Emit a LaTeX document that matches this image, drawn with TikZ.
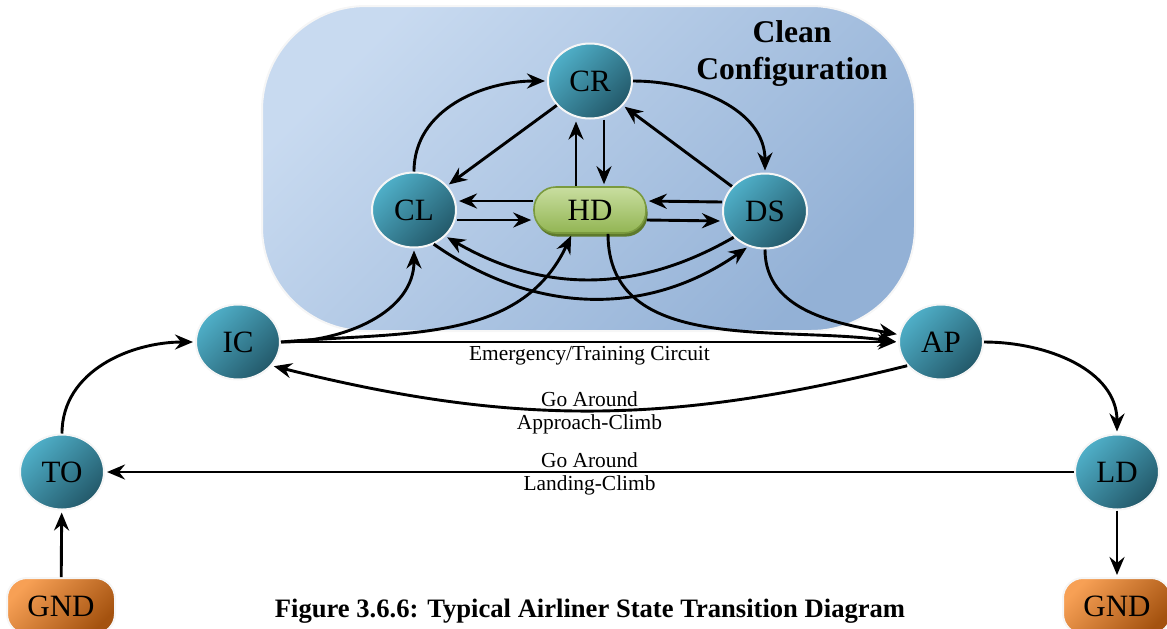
\documentclass[tikz,border=0pt]{standalone}
\usepackage{fontspec}
\setmainfont{Liberation Serif}
\usepackage{tikz}
\usetikzlibrary{arrows.meta,shapes.geometric,shadows}
\definecolor{phaseA}{HTML}{4FAFC8}
\definecolor{phaseB}{HTML}{23596A}
\definecolor{holdA}{HTML}{C9DEA0}
\definecolor{holdB}{HTML}{92B553}
\definecolor{holdEdge}{HTML}{7A9A3E}
\definecolor{holdShade}{HTML}{5E7A2C}
\definecolor{gndA}{HTML}{F7A055}
\definecolor{gndB}{HTML}{A4520F}
\definecolor{cleanA}{HTML}{C8DAF0}
\definecolor{cleanB}{HTML}{93B1D6}

\begin{document}
\begin{tikzpicture}[x=0.5pt,y=-0.5pt,->,>={Stealth[length=9pt,width=7.5pt,inset=3pt]},
                    shorten >=1pt,auto,line width=1.45pt]
  \tikzstyle{phase}=[ellipse,draw=white!93!gray,line width=1pt,top color=phaseA,
                     bottom color=phaseB,shading angle=45,minimum width=42pt,
                     minimum height=37.5pt,inner sep=0pt,font=\fontsize{15.5}{18}\selectfont]
  \tikzstyle{hold}=[rectangle,rounded corners=11pt,draw=holdEdge,line width=0.8pt,
                    top color=holdA,bottom color=holdB,minimum width=56pt,minimum height=23pt,
                    font=\fontsize{15.5}{18}\selectfont,
                    drop shadow={opacity=1,fill=holdShade,shadow xshift=0.8pt,shadow yshift=-1.8pt}]
  \tikzstyle{ground}=[rectangle,rounded corners=10pt,draw=white!93!gray,line width=1pt,
                      top color=gndA,bottom color=gndB,shading angle=45,minimum width=54pt,
                      minimum height=28pt,font=\fontsize{15.5}{18}\selectfont]
  \tikzstyle{lbl}=[font=\fontsize{10.7}{12}\selectfont,inner sep=1.3pt]

  \useasboundingbox (0,0) rectangle (1167,628);

  \path[-,draw=white!93!gray,line width=1pt,top color=cleanA,bottom color=cleanB,
        shading angle=45,rounded corners=52pt] (262,6) rectangle (915,331);
  \node[align=center,font=\fontsize{15.8}{18.5}\bfseries] (cfg) at (792,54) {Clean\\Configuration};

  \node[phase] (CR) at (590,81)  {CR};
  \node[phase] (CL) at (414,210) {CL};
  \node[phase] (DS) at (765,211) {DS};
  \node[hold]  (HD) at (590,210) {HD};
  \node[phase] (IC) at (238,342) {IC};
  \node[phase] (AP) at (941,342) {AP};
  \node[phase] (TO) at (62,472)  {TO};
  \node[phase] (LD) at (1117,472) {LD};
  \node[ground] (GNDL) at (61,606)  {GND};
  \node[ground] (GNDR) at (1117,606) {GND};
  \node[font=\fontsize{13.3}{15}\bfseries] (cap) at (590,611)
       {Figure 3.6.6: Typical Airliner State Transition Diagram};

  \path
(GNDL) edge (TO)
(TO) edge [out=90,in=180] (IC)
(IC) edge node[lbl,below] {Emergency/Training Circuit} (AP)
(IC.east) edge [out=0,in=-90] (CL)
(IC.east) edge [out=5,in=-115] ([xshift=-9pt]HD.south)
([xshift=9pt]HD.south) edge [out=-90,in=172] (AP.west)
(DS) edge [out=-90,in=170] (AP)
(AP) edge [out=0,in=90] (LD)
(LD) edge (GNDR)
(LD) edge node[lbl,above] {Go Around} node[lbl,below] {Landing-Climb} (TO)
(AP.215) edge [out=194,in=-14] node[lbl,above] {Go Around}
              node[lbl,below] {Approach-Climb} (IC.-35);

  \path %clean configuration
(CL) edge [out=90,in=180] (CR)
(CR) edge [out=0,in=90] (DS)
(CR) edge (CL)
(DS) edge (CR)
([xshift=-7pt]HD.north) edge ([xshift=-7pt]CR.south)
([xshift=7pt]CR.south) edge ([xshift=7pt]HD.north)
([yshift=4.5pt]HD.west) edge ([yshift=4.5pt]CL.east)
([yshift=-5pt]CL.east) edge ([yshift=-5pt]HD.west)
([yshift=4.5pt]DS.west) edge ([yshift=4.5pt]HD.east)
([yshift=-5pt]HD.east) edge ([yshift=-5pt]DS.west)
(DS.220) edge [out=-150,in=-30] (CL.-40)
(CL.-60) edge [out=-35,in=-145] (DS.-115);
\end{tikzpicture}
\end{document}
